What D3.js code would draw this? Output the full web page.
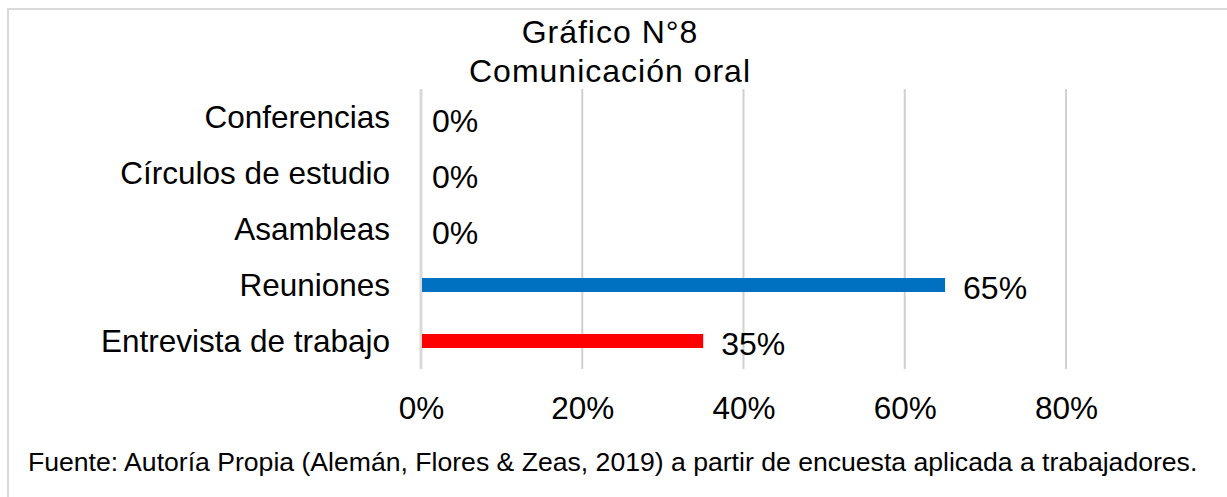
<html><head>
<meta charset="utf-8">
<title>Comunicación oral</title>
<script src="https://d3js.org/d3.v7.min.js"></script>
<style>
  body { margin: 0; background: #fff; }
  text { font-family: "Liberation Sans", Arial, sans-serif; fill: #000; }
</style>
</head>
<body>
<div id="chart"></div>
<script>
    const svgWidth = 1227;
    const svgHeight = 497;

    // data
    const categories = ["Conferencias", "Círculos de estudio", "Asambleas", "Reuniones", "Entrevista de trabajo"];
    const values = [0, 0, 0, 0.65, 0.35];
    const barColors = ["#0070c0", "#0070c0", "#0070c0", "#0070c0", "#ff0000"];
    const xTicks = [0, 0.2, 0.4, 0.6, 0.8];
    const titleLines = ["Gráfico N°8", "Comunicación oral"];
    const footnote = "Fuente: Autoría Propia (Alemán, Flores & Zeas, 2019) a partir de encuesta aplicada a trabajadores.";

    const svg = d3.select("#chart").append("svg")
        .attr("width", svgWidth)
        .attr("height", svgHeight);

    // frame
    svg.append("rect")
        .attr("x", 8).attr("y", 9)
        .attr("width", 1260).attr("height", 520)
        .attr("fill", "none")
        .attr("stroke", "#d9d9d9")
        .attr("stroke-width", 2);

    const xScale = d3.scaleLinear().domain([0, 0.8]).range([421, 1066]);
    const yScale = d3.scaleBand().domain(categories).range([89, 369]).paddingInner(0.75).paddingOuter(0.375);

    // gridlines
    svg.append("g").selectAll("line")
        .data(xTicks)
        .join("line")
        .attr("x1", d => xScale(d)).attr("x2", d => xScale(d))
        .attr("y1", 89).attr("y2", 369)
        .attr("stroke", d => d == 0 ? "#d9d9d9" : "#d0d0d0")
        .attr("stroke-width", d => d == 0 ? 3 : 2);

    // bars
    svg.append("g").selectAll("rect")
        .data(values)
        .join("rect")
        .attr("x", xScale(0) + 1)
        .attr("y", (d, i) => yScale(categories[i]))
        .attr("width", d => Math.max(0, xScale(d) - xScale(0) - 1))
        .attr("height", yScale.bandwidth())
        .attr("fill", (d, i) => barColors[i]);

    // value labels
    svg.append("g").selectAll("text")
        .data(values)
        .join("text")
        .attr("x", d => xScale(d) + (d > 0 ? 18 : 11))
        .attr("y", (d, i) => yScale(categories[i]) + yScale.bandwidth() / 2 + (d > 0 ? 14 : 15))
        .style("font-size", "32px")
        .text(d => Math.round(d * 100) + "%");

    // category axis labels
    svg.append("g").selectAll("text")
        .data(categories)
        .join("text")
        .attr("x", 390)
        .attr("y", d => yScale(d) + yScale.bandwidth() / 2 + 11)
        .style("font-size", "31.5px")
        .style("text-anchor", "end")
        .text(d => d);

    // x axis
    const bottomAxis = d3.axisBottom(xScale)
        .tickValues(xTicks)
        .tickSize(0)
        .tickPadding(0)
        .tickFormat(d3.format(".0%"));
    const ax = svg.append("g")
        .attr("transform", "translate(0," + 397 + ")")
        .call(bottomAxis);
    ax.select(".domain").remove();
    ax.selectAll("text")
        .attr("dy", "0.71em")
        .style("font-size", "31.5px")
        .style("font-family", "'Liberation Sans', Arial, sans-serif")
        .attr("fill", "#000");

    // title
    svg.append("g").selectAll("text")
        .data(titleLines)
        .join("text")
        .attr("x", 610)
        .attr("y", (d, i) => 43 + i * 39)
        .style("font-size", "32px")
        .style("letter-spacing", "1px")
        .style("text-anchor", "middle")
        .text(d => d);

    // footnote
    svg.append("text")
        .attr("x", 28)
        .attr("y", 471)
        .style("font-size", "26.6px")
        .text(footnote);
</script>
</body></html>
